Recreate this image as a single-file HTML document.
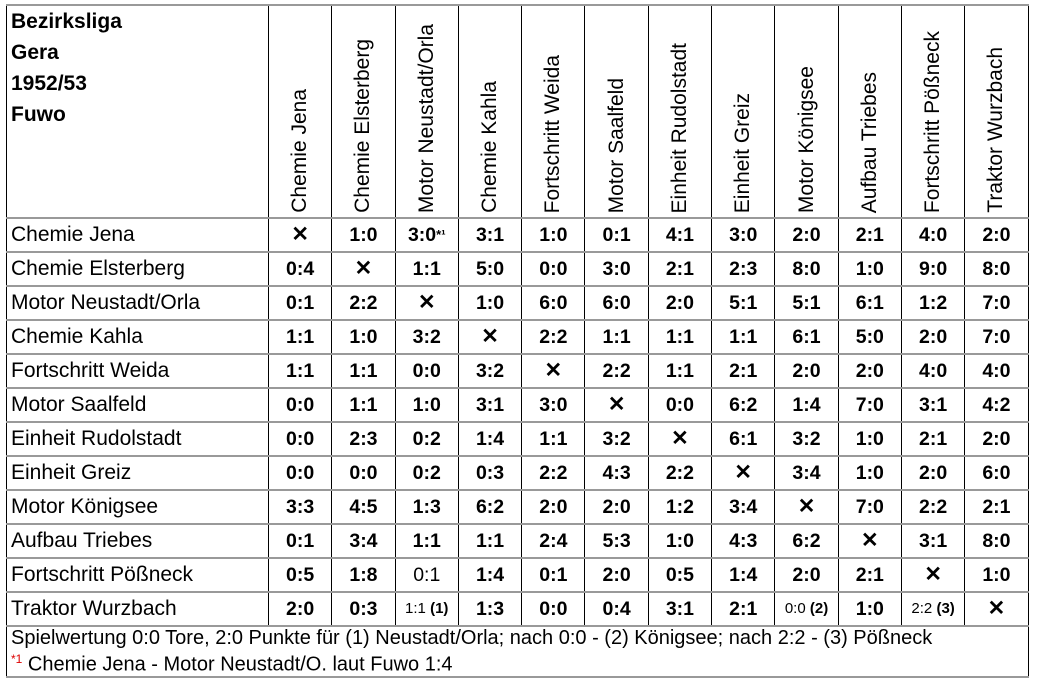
<!DOCTYPE html>
<html><head><meta charset="utf-8"><style>
body{margin:0;background:#fff;width:1037px;height:681px;overflow:hidden;font-family:"Liberation Sans",Arial,sans-serif;color:#000}
table{position:absolute;left:6px;top:4px;border-collapse:collapse;table-layout:fixed;width:1022px}
td{border-top:2px solid #999;border-bottom:2px solid #999;border-left:1px solid #000;border-right:1px solid #000;padding:0;font-size:19.5px;text-align:center;font-weight:bold;height:32px;line-height:20px;white-space:nowrap;overflow:hidden}
td.n{text-align:left;font-weight:normal;padding-left:4px;font-size:21px}
tr.h td{height:211px;vertical-align:bottom;font-weight:normal;font-size:21px}
tr.h td.t{vertical-align:top;text-align:left;font-weight:bold;padding-left:4px;line-height:31px;padding-top:0;font-size:21px}
.v{writing-mode:vertical-rl;transform:rotate(180deg);display:inline-block;padding-top:0;line-height:22px}
.x{font-size:21px;font-weight:bold}
.r{font-weight:normal}
.s{font-size:15px;font-weight:normal}
.s b{font-weight:bold}
td.f{text-align:left;font-weight:normal;font-size:20px;padding-left:4px;height:auto;line-height:21px;border-top:2px solid #999;border-bottom:2px solid #999;padding-top:1px}
sup{color:#d00;font-size:12px}
</style></head><body>
<table>
<colgroup><col style="width:262px"><col span="12" style="width:63.3px"></colgroup>
<tr class="h"><td class="t">Bezirksliga<br>Gera<br>1952/53<br>Fuwo</td>
<td><span class="v">Chemie Jena</span></td>
<td><span class="v">Chemie Elsterberg</span></td>
<td><span class="v">Motor Neustadt/Orla</span></td>
<td><span class="v">Chemie Kahla</span></td>
<td><span class="v">Fortschritt Weida</span></td>
<td><span class="v">Motor Saalfeld</span></td>
<td><span class="v">Einheit Rudolstadt</span></td>
<td><span class="v">Einheit Greiz</span></td>
<td><span class="v">Motor Königsee</span></td>
<td><span class="v">Aufbau Triebes</span></td>
<td><span class="v">Fortschritt Pößneck</span></td>
<td><span class="v">Traktor Wurzbach</span></td></tr>
<tr><td class="n">Chemie Jena</td><td class="x">✕</td><td>1:0</td><td>3:0<span style="font-size:13px;vertical-align:top">*¹</span></td><td>3:1</td><td>1:0</td><td>0:1</td><td>4:1</td><td>3:0</td><td>2:0</td><td>2:1</td><td>4:0</td><td>2:0</td></tr>
<tr><td class="n">Chemie Elsterberg</td><td>0:4</td><td class="x">✕</td><td>1:1</td><td>5:0</td><td>0:0</td><td>3:0</td><td>2:1</td><td>2:3</td><td>8:0</td><td>1:0</td><td>9:0</td><td>8:0</td></tr>
<tr><td class="n">Motor Neustadt/Orla</td><td>0:1</td><td>2:2</td><td class="x">✕</td><td>1:0</td><td>6:0</td><td>6:0</td><td>2:0</td><td>5:1</td><td>5:1</td><td>6:1</td><td>1:2</td><td>7:0</td></tr>
<tr><td class="n">Chemie Kahla</td><td>1:1</td><td>1:0</td><td>3:2</td><td class="x">✕</td><td>2:2</td><td>1:1</td><td>1:1</td><td>1:1</td><td>6:1</td><td>5:0</td><td>2:0</td><td>7:0</td></tr>
<tr><td class="n">Fortschritt Weida</td><td>1:1</td><td>1:1</td><td>0:0</td><td>3:2</td><td class="x">✕</td><td>2:2</td><td>1:1</td><td>2:1</td><td>2:0</td><td>2:0</td><td>4:0</td><td>4:0</td></tr>
<tr><td class="n">Motor Saalfeld</td><td>0:0</td><td>1:1</td><td>1:0</td><td>3:1</td><td>3:0</td><td class="x">✕</td><td>0:0</td><td>6:2</td><td>1:4</td><td>7:0</td><td>3:1</td><td>4:2</td></tr>
<tr><td class="n">Einheit Rudolstadt</td><td>0:0</td><td>2:3</td><td>0:2</td><td>1:4</td><td>1:1</td><td>3:2</td><td class="x">✕</td><td>6:1</td><td>3:2</td><td>1:0</td><td>2:1</td><td>2:0</td></tr>
<tr><td class="n">Einheit Greiz</td><td>0:0</td><td>0:0</td><td>0:2</td><td>0:3</td><td>2:2</td><td>4:3</td><td>2:2</td><td class="x">✕</td><td>3:4</td><td>1:0</td><td>2:0</td><td>6:0</td></tr>
<tr><td class="n">Motor Königsee</td><td>3:3</td><td>4:5</td><td>1:3</td><td>6:2</td><td>2:0</td><td>2:0</td><td>1:2</td><td>3:4</td><td class="x">✕</td><td>7:0</td><td>2:2</td><td>2:1</td></tr>
<tr><td class="n">Aufbau Triebes</td><td>0:1</td><td>3:4</td><td>1:1</td><td>1:1</td><td>2:4</td><td>5:3</td><td>1:0</td><td>4:3</td><td>6:2</td><td class="x">✕</td><td>3:1</td><td>8:0</td></tr>
<tr><td class="n">Fortschritt Pößneck</td><td>0:5</td><td>1:8</td><td class="r">0:1</td><td>1:4</td><td>0:1</td><td>2:0</td><td>0:5</td><td>1:4</td><td>2:0</td><td>2:1</td><td class="x">✕</td><td>1:0</td></tr>
<tr><td class="n">Traktor Wurzbach</td><td>2:0</td><td>0:3</td><td class="s">1:1 <b>(1)</b></td><td>1:3</td><td>0:0</td><td>0:4</td><td>3:1</td><td>2:1</td><td class="s">0:0 <b>(2)</b></td><td>1:0</td><td class="s">2:2 <b>(3)</b></td><td class="x">✕</td></tr>
<tr><td class="f" colspan="13">Spielwertung 0:0 Tore, 2:0 Punkte für (1) Neustadt/Orla; nach 0:0 - (2) Königsee; nach 2:2 - (3) Pößneck<br><sup>*1</sup> Chemie Jena - Motor Neustadt/O. laut Fuwo 1:4</td></tr>
</table>
</body></html>
